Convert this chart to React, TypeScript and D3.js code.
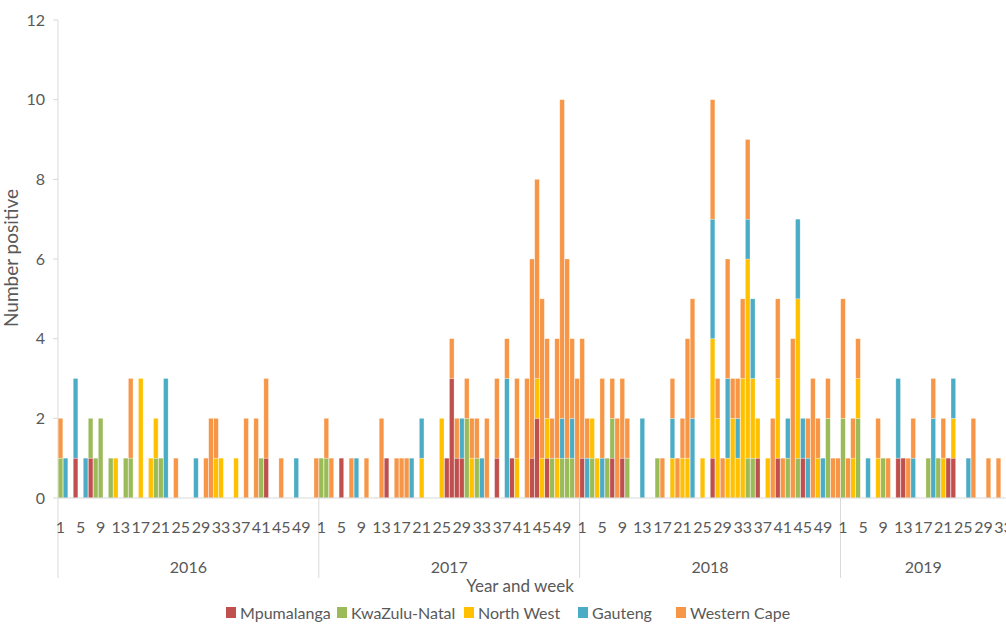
import { useEffect, useRef } from "react";
import * as d3 from "d3";

const years = ["2016", "2017", "2018", "2019"];
const weeksInYear = [52, 52, 52, 33];
const weekTicks = [1, 5, 9, 13, 17, 21, 25, 29, 33, 37, 41, 45, 49];
const yTicks = [0, 2, 4, 6, 8, 10, 12];

const provinces = ["Mpumalanga", "KwaZulu-Natal", "North West", "Gauteng", "Western Cape"];
const colors = ["#C0504D", "#9BBB59", "#FFC000", "#4BACC6", "#F79646"];

// weekly positives, one line per year (2016, 2017, 2018, 2019 to week 33)
const mpumalanga = [
  0,0,0,1, 0,0,1,0, 0,0,0,0, 0,0,0,0, 0,0,0,0, 0,0,0,0, 0,0,0,0, 0,0,0,0, 0,0,0,0, 0,0,0,0, 0,1,0,0, 0,0,0,0, 0,0,0,0,
  0,0,0,0, 1,0,0,0, 0,0,0,0, 0,1,0,0, 0,0,0,0, 0,0,0,0, 0,1,3,1, 1,0,0,0, 0,0,0,1, 0,0,1,0, 0,0,1,2, 0,1,0,0, 0,0,0,0,
  1,0,0,0, 0,0,1,0, 1,0,0,0, 0,0,0,0, 0,0,0,0, 0,0,0,0, 0,0,1,0, 0,0,0,0, 0,0,0,1, 0,0,0,1, 0,0,0,0, 1,0,0,0, 0,0,0,0,
  0,0,0,0, 0,0,0,0, 0,0,0,1, 1,0,0,0, 0,0,0,0, 0,1,1,0, 0,0,0,0, 0,0,0,0, 0,
];
const kwazuluNatal = [
  1,0,0,0, 0,0,1,1, 2,0,1,0, 0,1,1,0, 0,0,0,1, 1,0,0,0, 0,0,0,0, 0,0,0,0, 0,0,0,0, 0,0,0,0, 1,0,0,0, 0,0,0,0, 0,0,0,0,
  1,1,0,0, 0,0,0,0, 0,0,0,0, 0,0,0,0, 0,0,0,0, 0,0,0,0, 0,0,0,0, 0,2,0,1, 0,0,0,0, 0,0,0,0, 0,0,0,0, 0,0,1,0, 1,1,1,0,
  0,0,1,0, 0,1,1,0, 0,1,0,0, 0,0,0,1, 0,0,0,0, 0,0,0,0, 0,0,0,0, 0,0,0,0, 0,1,1,0, 0,0,0,0, 0,1,0,1, 0,0,0,0, 0,2,0,0,
  2,0,0,2, 0,0,0,0, 1,0,0,0, 0,0,0,0, 0,1,0,1, 0,0,0,0, 0,0,0,0, 0,0,0,0, 0,
];
const northWest = [
  0,0,0,0, 0,0,0,0, 0,0,0,1, 0,0,0,0, 3,0,1,1, 0,0,0,0, 0,0,0,0, 0,0,0,1, 1,0,0,1, 0,0,0,0, 0,0,0,0, 0,0,0,0, 0,0,0,0,
  0,0,0,0, 0,0,0,0, 0,0,0,0, 0,0,0,0, 0,0,0,0, 1,0,0,0, 2,0,0,0, 0,0,1,0, 0,0,0,0, 0,0,0,1, 0,0,0,1, 1,1,0,1, 0,0,0,0,
  0,0,1,1, 0,0,0,0, 0,0,0,0, 0,0,0,0, 0,0,1,0, 1,1,0,0, 1,0,3,2, 0,1,2,1, 3,5,2,1, 0,1,0,2, 0,0,0,4, 0,0,0,1, 0,0,0,0,
  0,0,1,1, 0,0,0,1, 0,0,0,0, 0,0,0,0, 0,0,0,0, 1,0,1,0, 0,0,0,0, 0,0,0,0, 0,
];
const gauteng = [
  0,1,0,2, 0,1,0,0, 0,0,0,0, 0,0,0,0, 0,0,0,0, 0,3,0,0, 0,0,0,1, 0,0,0,0, 0,0,0,0, 0,0,0,0, 0,0,0,0, 0,0,0,1, 0,0,0,0,
  0,0,0,0, 0,0,0,1, 0,0,0,0, 0,0,0,0, 0,0,1,0, 1,0,0,0, 0,0,0,0, 1,0,0,0, 1,0,0,0, 0,3,0,0, 0,0,0,0, 0,0,0,0, 1,0,1,0,
  0,1,0,0, 1,0,0,0, 0,0,0,0, 2,0,0,0, 0,0,1,0, 0,0,2,0, 0,0,3,0, 0,2,0,1, 0,1,2,0, 0,0,0,0, 0,1,0,2, 1,1,0,0, 1,0,0,0,
  0,0,0,0, 0,1,0,0, 0,0,0,2, 0,0,1,0, 0,0,2,0, 0,0,1,0, 0,1,0,0, 0,0,0,0, 0,
];
const westernCape = [
  1,0,0,0, 0,0,0,0, 0,0,0,0, 0,0,2,0, 0,0,0,0, 0,0,0,1, 0,0,0,0, 0,1,2,1, 0,0,0,0, 0,2,0,2, 0,2,0,0, 1,0,0,0, 0,0,0,1,
  0,1,1,0, 0,0,1,0, 0,1,0,0, 2,0,0,1, 1,1,0,0, 0,0,0,0, 0,0,1,1, 0,1,1,1, 0,2,0,2, 0,1,0,2, 0,3,5,5, 4,2,1,3, 8,5,2,3,
  3,1,0,0, 2,0,1,2, 2,1,0,0, 0,0,0,0, 1,0,1,1, 1,3,3,0, 0,0,3,1, 1,3,1,1, 2,2,0,0, 0,0,2,2, 1,0,4,0, 0,1,3,1, 0,1,1,1,
  3,1,1,1, 0,0,0,1, 0,1,0,0, 0,1,1,0, 0,0,1,0, 1,0,0,0, 0,0,2,0, 0,1,0,1, 0,
];

const seriesValues = [mpumalanga, kwazuluNatal, northWest, gauteng, westernCape];

export default function App() {
  const ref = useRef<SVGSVGElement | null>(null);

  useEffect(() => {
    const width = 1006;
    const height = 625;
    const left = 58;
    const baseY = 498;
    const font = "Lato, 'Open Sans', sans-serif";
    const textColor = "#595959";
    const lineColor = "#d9d9d9";

    const svg = d3.select(ref.current).attr("width", width).attr("height", height);
    svg.selectAll("*").remove();

    const weeks = years.flatMap((yr, i) =>
      d3.range(1, weeksInYear[i] + 1).map((w) => ({ year: yr, week: w, key: `${yr}-${w}` }))
    );
    const table = weeks.map((d, i) => {
      const row: Record<string, any> = { key: d.key };
      provinces.forEach((p, j) => (row[p] = seriesValues[j][i]));
      return row;
    });
    const stacked = d3.stack<Record<string, any>>().keys(provinces)(table);

    const x = d3
      .scaleBand()
      .domain(weeks.map((d) => d.key))
      .range([left, width])
      .paddingInner(0.08)
      .paddingOuter(0.04);
    const y = d3.scaleLinear().domain([0, 12]).range([baseY, 20]);
    const edge = (key: string) => x(key)! - (x.step() - x.bandwidth()) / 2;

    // y axis labels and ticks
    const yAxis = svg.append("g");
    yAxis
      .selectAll("text")
      .data(yTicks)
      .enter()
      .append("text")
      .attr("x", 45)
      .attr("y", (d) => y(d))
      .attr("dy", "0.36em")
      .attr("text-anchor", "end")
      .attr("font-family", font)
      .attr("font-size", 16)
      .attr("fill", textColor)
      .text((d) => d);
    yAxis
      .selectAll("line")
      .data(yTicks)
      .enter()
      .append("line")
      .attr("x1", 53)
      .attr("x2", left)
      .attr("y1", (d) => y(d))
      .attr("y2", (d) => y(d))
      .attr("stroke", lineColor);
    svg
      .append("line")
      .attr("x1", left)
      .attr("x2", left)
      .attr("y1", 20)
      .attr("y2", baseY)
      .attr("stroke", lineColor);

    svg
      .append("text")
      .attr("transform", `translate(18, 258) rotate(-90)`)
      .attr("text-anchor", "middle")
      .attr("font-family", font)
      .attr("font-size", 19)
      .attr("fill", textColor)
      .text("Number positive");

    // bars
    svg
      .append("g")
      .selectAll("g")
      .data(stacked)
      .enter()
      .append("g")
      .attr("fill", (_, i) => colors[i])
      .selectAll("rect")
      .data((s) => s.filter((d) => d[1] > d[0]))
      .enter()
      .append("rect")
      .attr("x", (d) => x(d.data.key)!)
      .attr("y", (d) => y(d[1]))
      .attr("width", x.bandwidth())
      .attr("height", (d) => y(d[0]) - y(d[1]))
      .attr("stroke", "#ffffff")
      .attr("stroke-opacity", 0.45)
      .attr("stroke-width", 0.6);

    // category axis
    svg
      .append("line")
      .attr("x1", left)
      .attr("x2", width)
      .attr("y1", baseY)
      .attr("y2", baseY)
      .attr("stroke", lineColor);

    const yearStarts = years.map((yr) => `${yr}-1`);
    svg
      .append("g")
      .selectAll("line")
      .data(yearStarts)
      .enter()
      .append("line")
      .attr("x1", (k) => edge(k))
      .attr("x2", (k) => edge(k))
      .attr("y1", baseY)
      .attr("y2", 578)
      .attr("stroke", lineColor);

    svg
      .append("g")
      .selectAll("text")
      .data(weeks.filter((d) => weekTicks.includes(d.week)))
      .enter()
      .append("text")
      .attr("x", (d) => x(d.key)! + x.bandwidth() / 2)
      .attr("y", 533)
      .attr("text-anchor", "middle")
      .attr("font-family", font)
      .attr("font-size", 16)
      .attr("fill", textColor)
      .text((d) => d.week);

    svg
      .append("g")
      .selectAll("text")
      .data(years)
      .enter()
      .append("text")
      .attr("x", (yr, i) => {
        const start = edge(`${yr}-1`);
        const end = i < years.length - 1 ? edge(`${years[i + 1]}-1`) : Math.min(width, start + x.step() * 52);
        return (start + end) / 2;
      })
      .attr("y", 573)
      .attr("text-anchor", "middle")
      .attr("font-family", font)
      .attr("font-size", 16)
      .attr("fill", textColor)
      .text((d) => d);

    svg
      .append("text")
      .attr("x", 520)
      .attr("y", 592)
      .attr("text-anchor", "middle")
      .attr("font-family", font)
      .attr("font-size", 17)
      .attr("fill", textColor)
      .text("Year and week");

    // legend
    const legendX = [226, 337, 464, 578, 676];
    const legend = svg
      .append("g")
      .selectAll("g")
      .data(provinces)
      .enter()
      .append("g")
      .attr("transform", (_, i) => `translate(${legendX[i]}, 613)`);
    legend
      .append("rect")
      .attr("x", 0)
      .attr("y", -6)
      .attr("width", 10)
      .attr("height", 11)
      .attr("fill", (_, i) => colors[i]);
    legend
      .append("text")
      .attr("x", 14)
      .attr("y", 0)
      .attr("dy", "0.36em")
      .attr("font-family", font)
      .attr("font-size", 16)
      .attr("fill", textColor)
      .text((d) => d);
  }, []);

  return (
    <div style={{ position: "absolute", left: 0, top: 0, background: "#fff" }}>
      <svg ref={ref} style={{ display: "block" }} />
    </div>
  );
}
